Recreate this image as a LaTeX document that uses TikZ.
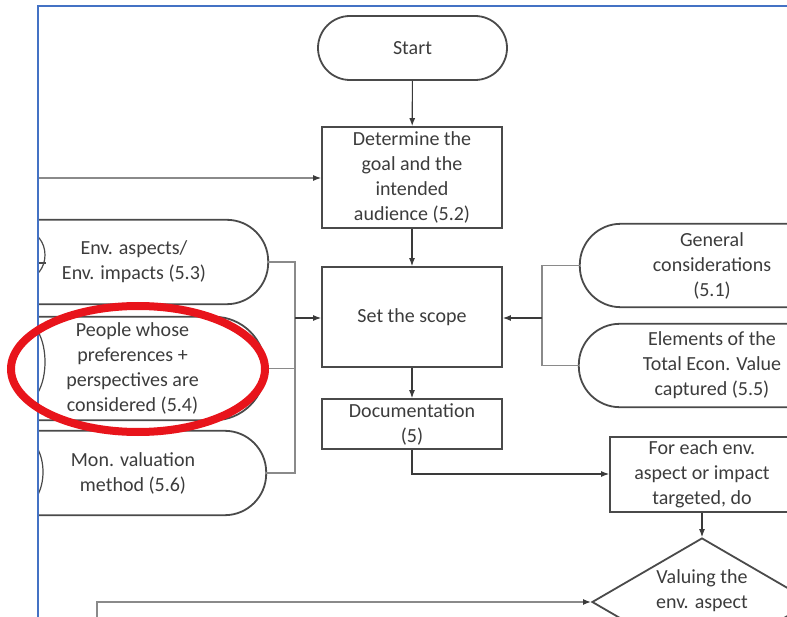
\documentclass[tikz,border=0pt]{standalone}
\usepackage{fontspec}
\setmainfont{Carlito}
\usetikzlibrary{arrows.meta,shapes.misc,shapes.geometric}
\definecolor{ink}{HTML}{3C3C3C}
\definecolor{edge}{HTML}{4A4A4A}
\definecolor{wire}{HTML}{3A3A3A}
\definecolor{wirelight}{HTML}{8A8A8A}
\definecolor{frameblue}{HTML}{4472C4}
\definecolor{markred}{HTML}{E8141B}
\begin{document}
\begin{tikzpicture}[x=1pt,y=-1pt,
  flowtext/.style={text=ink, align=center, font=\fontsize{20}{25}\selectfont, inner sep=0pt},
  flowshape/.style={flowtext, draw=edge, line width=1.8pt},
  terminal/.style={flowshape, rounded rectangle},
  termtext/.style={flowtext, rectangle},
  outline/.style={draw=edge, line width=1.8pt},
  process/.style={flowshape, rectangle},
  decision/.style={flowshape, diamond},
  linkend/.style={draw=edge, line width=1.2pt, ellipse},
  link/.style={draw=edge, line width=1.2pt},
  conn/.style={draw=wire, line width=1.1pt},
  connlight/.style={draw=wirelight, line width=1.8pt},
  arr/.style={-{Latex[length=8pt,width=6pt,color=wire]}}
]
\useasboundingbox (0,0) rectangle (787,617);

\begin{scope}
  \clip (38,6) rectangle (787,617);

  % main column
  \node[terminal, minimum width=189pt, minimum height=64pt] (start) at (412.5,48) {Start};
  \node[process, minimum width=180pt, minimum height=101pt] (goal) at (412,177.5)
    {Determine the\\goal and the\\intended\\audience (5.2)};
  \node[process, minimum width=180pt, minimum height=100pt] (scope) at (412,317) {Set the scope};
  \node[process, minimum width=180pt, minimum height=50pt] (doc) at (412,424) {Documentation\\(5)};

  % scope inputs on the left (text areas, outlines drawn below)
  \node[termtext, minimum width=268pt, minimum height=84pt] (aspects) at (134,262)
    {Env. aspects/\\Env. impacts (5.3)};
  \node[termtext, minimum width=265pt, minimum height=103pt] (people) at (132.5,368.5)
    {People whose\\preferences +\\perspectives are\\considered (5.4)};
  \node[termtext, minimum width=266pt, minimum height=84pt] (method) at (133,473)
    {Mon. valuation\\method (5.6)};
  \draw[outline, rounded corners=41.5pt] ([xshift=-80pt]aspects.north west) rectangle (aspects.south east);
  \draw[outline, rounded corners=51pt] ([xshift=-80pt]people.north west) rectangle (people.south east);
  \draw[outline, rounded corners=41.5pt] ([xshift=-80pt]method.north west) rectangle (method.south east);

  % partly hidden link ends at the left border
  \node[linkend, minimum width=40pt, minimum height=48pt] (linkA) at (25,255) {};
  \node[linkend, minimum width=40pt, minimum height=80pt] (linkB) at (25,362) {};
  \node[linkend, minimum width=40pt, minimum height=68pt] (linkC) at (23,472) {};
  \coordinate (linkAout) at (38,263);
  \draw[link] (linkAout) -- (linkA.east |- linkAout);

  % scope inputs on the right
  \node[termtext, minimum width=264pt, minimum height=83pt] (general) at (712,265.5)
    {General\\considerations\\(5.1)};
  \node[termtext, minimum width=266pt, minimum height=83pt] (elements) at (712,365.5)
    {Elements of the\\Total Econ. Value\\captured (5.5)};
  \draw[outline, rounded corners=41pt] (general.north west) rectangle ([xshift=80pt]general.south east);
  \draw[outline, rounded corners=41pt] (elements.north west) rectangle ([xshift=80pt]elements.south east);

  % loop part
  \node[process, minimum width=184pt, minimum height=75pt] (foreach) at (702,474.5)
    {For each env.\\aspect or impact\\targeted, do};
  \node[decision, minimum width=220pt, minimum height=128pt] (valuing) at (702,602) {};
  \node[flowtext] (valtext) at (702,591) {Valuing the\\env. aspect};

  % free ends of connectors
  \coordinate (goalin) at (38,178);
  \coordinate (loopin) at (97,617);
  \coordinate (leftbus) at (295,318);
  \coordinate (rightbus) at (542,318);
  \coordinate (docturn) at (412,474);

  % connectors
  \draw[conn, arr] (start) -- (goal);
  \draw[conn, arr] (goal) -- (scope);
  \draw[conn, arr] (scope) -- (doc);
  \draw[conn, draw=wirelight, line width=1.2pt, arr] (goalin) -- (goal.west |- goalin);

  \draw[connlight] (aspects.east) -| (leftbus);
  \draw[connlight] (method.east) -| (leftbus);
  \draw[connlight] (people.east) -- (leftbus |- people.east);
  \draw[conn, arr] (leftbus) -- (scope.west |- leftbus);

  \draw[connlight] (general.west) -| (rightbus);
  \draw[connlight] (elements.west) -| (rightbus);
  \draw[conn, arr] (rightbus) -- (scope.east |- rightbus);

  \draw[conn, arr] (doc.south) -- (docturn) -- (foreach.west |- docturn);
  \draw[conn, arr] (foreach) -- (valuing.north);
  \draw[connlight, line width=1.6pt, arr] (loopin) |- (valuing.west);
\end{scope}

% border of the drawing area
\draw[frameblue, line width=1.6pt] (38,617) -- (38,6) -- (787,6);

% highlight around one of the inputs
\draw[draw=markred, line width=8pt] (138,369) ellipse [x radius=127pt, y radius=63pt];
\end{tikzpicture}
\end{document}
